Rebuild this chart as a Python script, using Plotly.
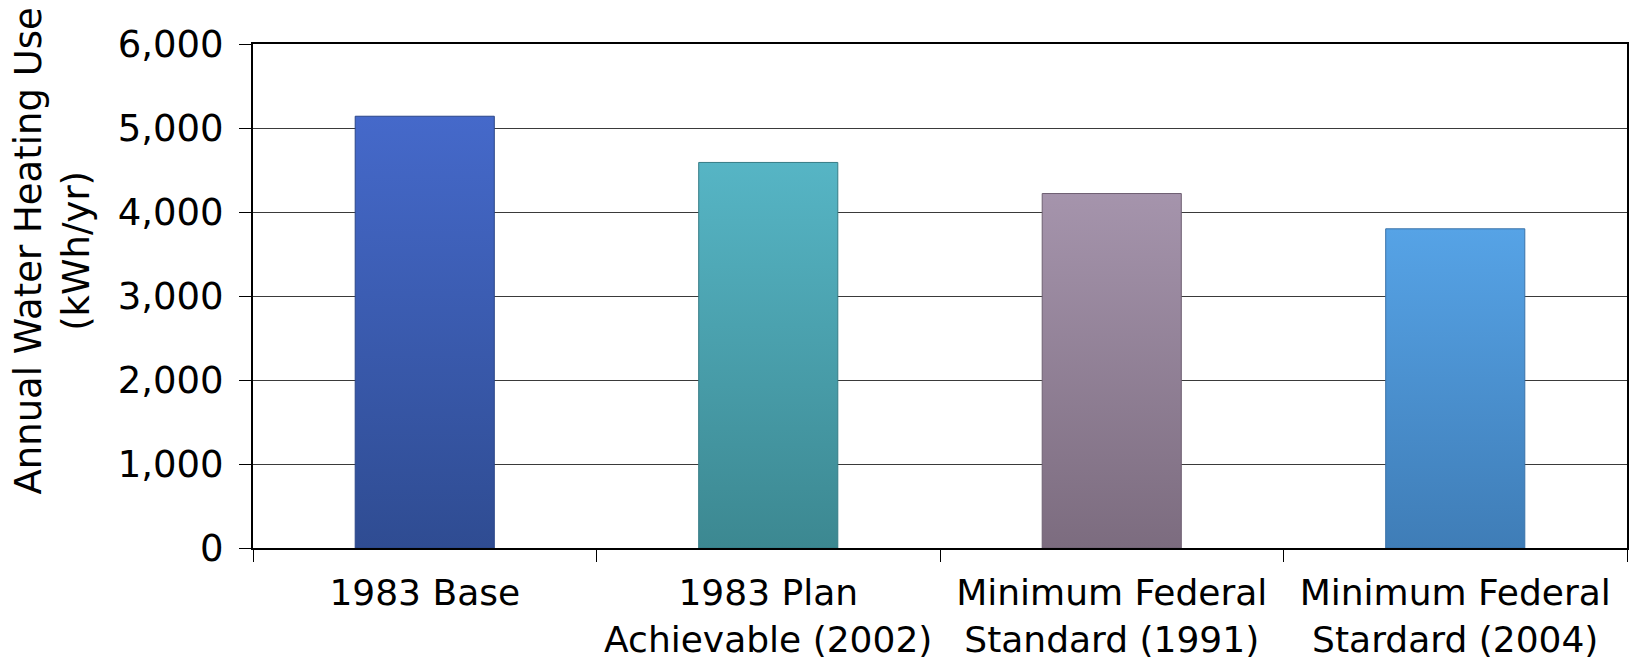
import plotly.graph_objects as go

# Annual water heating use by scenario
categories = [
    "1983 Base",
    "1983 Plan<br>Achievable (2002)",
    "Minimum Federal<br>Standard (1991)",
    "Minimum Federal<br>Stardard (2004)",
]
values = [5140, 4590, 4220, 3800]
top_colors = ["#4569CA", "#56B5C5", "#A594AC", "#56A3E6"]
bottom_colors = ["#2F4C92", "#3C8891", "#7C6C7F", "#3F7DB7"]
edge_colors = ["#2B4688", "#367C85", "#6E6072", "#3A72A8"]

BAR_WIDTH = 0.405
FONT = "DejaVu Sans"

fig = go.Figure()

# Each column is a filled outline on the category index, shaded top to bottom
for i, (cat, val) in enumerate(zip(categories, values)):
    x0, x1 = i - BAR_WIDTH / 2, i + BAR_WIDTH / 2
    fig.add_trace(go.Scatter(
        x=[x0, x1, x1, x0, x0],
        y=[0, 0, val, val, 0],
        mode="lines",
        fill="toself",
        line=dict(color=edge_colors[i], width=1),
        fillgradient=dict(
            type="vertical",
            colorscale=[[0, bottom_colors[i]], [1, top_colors[i]]],
        ),
        hoverinfo="skip",
        showlegend=False,
    ))

fig.update_layout(
    width=1634,
    height=664,
    margin=dict(l=253, r=7, t=44, b=116),
    paper_bgcolor="white",
    plot_bgcolor="white",
    font=dict(family=FONT, size=36, color="black"),
    showlegend=False,
)

fig.update_xaxes(
    range=[-0.5, 3.5],
    automargin=False,
    tickmode="array",
    tickvals=list(range(len(categories))),
    ticktext=categories,
    ticks="",
    ticklabelstandoff=12,
    minor=dict(
        tickmode="array",
        tickvals=[k - 0.5 for k in range(len(categories) + 1)],
        ticks="outside",
        ticklen=12,
        tickwidth=1,
        tickcolor="black",
        showgrid=False,
    ),
    showgrid=False,
    zeroline=False,
    showline=True,
    mirror=True,
    linecolor="black",
    linewidth=2,
    tickfont=dict(family=FONT, size=36, color="black"),
)

fig.update_yaxes(
    range=[0, 6000],
    automargin=False,
    tick0=0,
    dtick=1000,
    tickformat=",",
    ticks="outside",
    ticklen=12,
    tickwidth=1,
    tickcolor="black",
    ticklabelstandoff=8,
    showgrid=True,
    gridcolor="#3a3a3a",
    gridwidth=1,
    zeroline=False,
    showline=True,
    mirror=True,
    linecolor="black",
    linewidth=2,
    tickfont=dict(family=FONT, size=37, color="black"),
)

fig.add_annotation(
    text="Annual Water Heating Use<br>(kWh/yr)",
    xref="paper",
    yref="paper",
    x=-0.1456,
    y=0.59,
    xanchor="center",
    yanchor="middle",
    textangle=-90,
    showarrow=False,
    font=dict(family=FONT, size=37, color="black"),
)

fig.write_html("out.html")
